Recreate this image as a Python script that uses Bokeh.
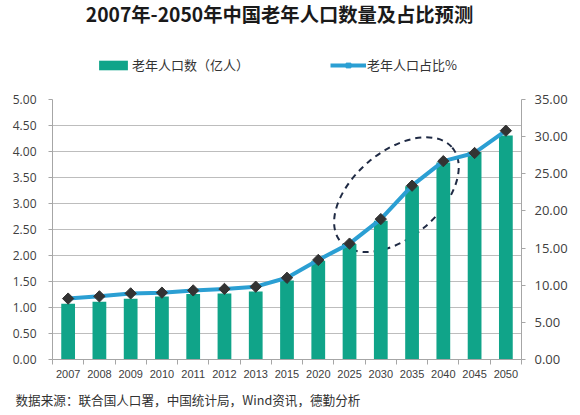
from bokeh.plotting import figure
from bokeh.layouts import column
from bokeh.models import (Range1d, LinearAxis, FixedTicker, NumeralTickFormatter,
                          Legend, LegendItem, Label, Title, ColumnDataSource)
from bokeh.embed import file_html
from bokeh.resources import INLINE

# ---- data ----
years = ["2007", "2008", "2009", "2010", "2011", "2012", "2013", "2015",
         "2020", "2025", "2030", "2035", "2040", "2045", "2050"]
elderly_pop = [1.07, 1.11, 1.17, 1.21, 1.26, 1.27, 1.31, 1.52,
               1.90, 2.22, 2.67, 3.33, 3.79, 3.99, 4.31]          # 亿人
elderly_share = [8.2, 8.5, 8.9, 9.0, 9.3, 9.5, 9.8, 11.0,
                 13.4, 15.6, 18.9, 23.4, 26.7, 27.8, 30.8]          # %
left_ticks = [0, 0.5, 1, 1.5, 2, 2.5, 3, 3.5, 4, 4.5, 5]
right_ticks = [0, 5, 10, 15, 20, 25, 30, 35]

title_text = "2007年-2050年中国老年人口数量及占比预测"
bar_name = "老年人口数（亿人）"
line_name = "老年人口占比%"
source_text = "数据来源：联合国人口署，中国统计局，Wind资讯，德勤分析"

BAR = "#10a489"
LINE = "#2b9fd3"
MARK = "#333333"
GRID = "#bdbdbd"
AX = "#a6a6a6"
TXT = "#404040"
CJK = "Noto Sans CJK SC"

W = 580
HEAD_H = 80
MAIN_H = 415 - HEAD_H

idx = list(range(len(years)))
src = ColumnDataSource(dict(x=idx, pop=elderly_pop, share=elderly_share))

# ---------- header: title + legend ----------
head = figure(width=W, height=HEAD_H, output_backend="svg", toolbar_location=None,
              x_range=Range1d(0, 1), y_range=Range1d(100, 200),
              x_axis_location=None, y_axis_location=None,
              min_border=0, min_border_left=0, min_border_right=0,
              min_border_top=0, min_border_bottom=0,
              background_fill_color="white", border_fill_color="white")
head.outline_line_color = None
head.grid.visible = False
head.add_layout(Label(x=227, y=67, x_units="screen", y_units="screen",
                      text=title_text, text_align="center", text_baseline="middle",
                      text_font=CJK, text_font_size="19.3px", text_font_style="bold",
                      text_color="#1a1a1a"))
# legend keys (same data, outside the header's visible range)
key_bar = head.vbar(x="x", top="pop", width=0.44, source=src,
                    fill_color=BAR, line_color=None)
key_line = head.line(x="x", y="share", source=src, line_color=LINE, line_width=4)
key_mark = head.scatter(x="x", y="share", source=src, marker="square", angle=0.785,
                        size=6, fill_color=LINE, line_color=LINE)
legend = Legend(items=[LegendItem(label=bar_name, renderers=[key_bar]),
                       LegendItem(label=line_name, renderers=[key_line, key_mark])],
                orientation="horizontal", location=(43, 6),
                glyph_width=36, glyph_height=12, label_height=12,
                label_width=120, label_standoff=1, spacing=78,
                padding=0, margin=0,
                border_line_color=None, background_fill_alpha=0,
                label_text_font=CJK, label_text_font_size="13px",
                label_text_color="#333333")
head.add_layout(legend)

# ---------- main chart ----------
p = figure(width=W, height=MAIN_H, output_backend="svg", toolbar_location=None,
           x_range=Range1d(-0.5, len(years) - 0.5), y_range=Range1d(0, 5),
           min_border_left=52, min_border_right=59, min_border_top=19,
           min_border_bottom=MAIN_H - 19 - 260, background_fill_color="white",
           border_fill_color="white")
p.outline_line_color = None
p.extra_y_ranges = {"pct": Range1d(0, 35)}

p.xgrid.visible = False
p.ygrid.ticker = FixedTicker(ticks=left_ticks)
p.ygrid.grid_line_color = GRID
p.ygrid.grid_line_width = 1

xa = p.xaxis[0]
xa.ticker = FixedTicker(ticks=idx, minor_ticks=[i - 0.5 for i in range(len(years) + 1)])
xa.major_label_overrides = {i: y for i, y in enumerate(years)}
xa.major_tick_line_color = None
xa.major_tick_out = 0
xa.major_tick_in = 0
xa.minor_tick_out = 5
xa.minor_tick_in = 0
xa.minor_tick_line_color = AX
xa.axis_line_color = AX
xa.major_label_standoff = 5
xa.major_label_text_font = "Liberation Sans"
xa.major_label_text_font_size = "11px"
xa.major_label_text_color = TXT

ya = p.yaxis[0]
ya.ticker = FixedTicker(ticks=left_ticks)
ya.formatter = NumeralTickFormatter(format="0.00")
ya.axis_line_color = AX
ya.major_tick_line_color = AX
ya.major_tick_out = 4
ya.major_tick_in = 0
ya.minor_tick_line_color = None
ya.major_label_standoff = 12
ya.major_label_text_font = "Open Sans"
ya.major_label_text_font_size = "12px"
ya.major_label_text_color = TXT

ra = LinearAxis(y_range_name="pct", ticker=FixedTicker(ticks=right_ticks),
                formatter=NumeralTickFormatter(format="0.00"))
ra.axis_line_color = AX
ra.major_tick_line_color = AX
ra.major_tick_out = 4
ra.major_tick_in = 0
ra.minor_tick_line_color = None
ra.major_label_standoff = 9
ra.major_label_text_font = "Open Sans"
ra.major_label_text_font_size = "13px"
ra.major_label_text_color = TXT
p.add_layout(ra, "right")

# highlight ellipse (annotation between 2030 and 2035)
p.ellipse(x=[10.5], y=[3.17], width=146, height=86, angle=0.70,
          width_units="screen", height_units="screen",
          fill_color=None, line_color="#1f2a44", line_width=2, line_dash="6 5")

bars = p.vbar(x="x", top="pop", width=0.44, source=src,
              fill_color=BAR, line_color=None)
line = p.line(x="x", y="share", source=src, y_range_name="pct",
              line_color=LINE, line_width=4)
marks = p.scatter(x="x", y="share", source=src, y_range_name="pct",
                  marker="square", angle=0.785, size=8,
                  fill_color=MARK, line_color=MARK)

p.add_layout(Title(text=source_text, align="left", offset=-37, standoff=14,
                   text_font=CJK, text_font_size="12.6px", text_font_style="normal",
                   text_color="#333333"), "below")

layout = column(head, p, spacing=0)
open("out.html", "w").write(file_html(layout, INLINE))
